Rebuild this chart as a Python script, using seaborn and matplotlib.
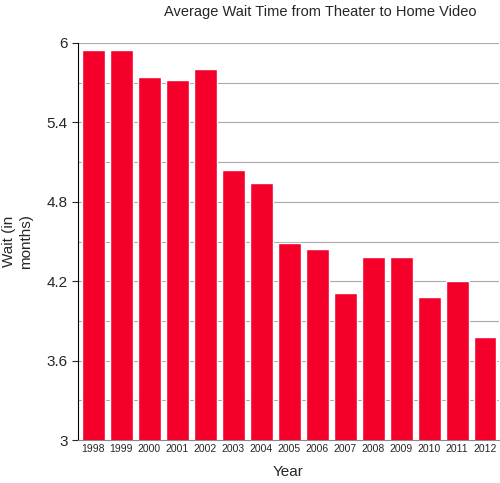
import matplotlib
matplotlib.use("Agg")
import matplotlib.pyplot as plt
import seaborn as sns
import pandas as pd
import numpy as np

years = [str(y) for y in range(1998, 2013)]
wait = [5.95, 5.95, 5.74, 5.72, 5.80, 5.04, 4.94, 4.49, 4.44, 4.11, 4.38, 4.38, 4.08, 4.20, 3.78]
df = pd.DataFrame({"Year": years, "Wait": wait})

sns.set_style("white")
plt.rcParams['font.family'] = ['Liberation Sans', 'DejaVu Sans']
fig = plt.figure(figsize=(5, 4.83), dpi=100)
ax = fig.add_axes([0.156, 0.089, 0.842, 0.822])
sns.barplot(data=df, x="Year", y="Wait", color="#f5002b", saturation=1, width=0.82, ax=ax, zorder=3)
ax.set_ylim(3, 6)
ax.set_yticks(np.arange(3, 6.01, 0.6))
ax.set_yticklabels(["3", "3.6", "4.2", "4.8", "5.4", "6"], fontsize=11)
ax.set_yticks(np.arange(3.3, 6, 0.6), minor=True)
ax.grid(True, axis="y", which="both", color="#aaaaaa", lw=0.8, zorder=0)
ax.tick_params(axis="x", labelsize=7.5, length=0, pad=3)
ax.tick_params(axis="y", which="major", left=True, length=4, width=0.8)
for s in ["top", "right"]:
    ax.spines[s].set_visible(False)
ax.spines["left"].set_color("black")
ax.spines["bottom"].set_color("#888888")
ax.set_xlim(-0.55, 14.5)
ax.set_xlabel("Year", fontsize=11, labelpad=8)
ax.set_ylabel("Wait (in\nmonths)", fontsize=11, labelpad=10)
fig.text(0.64, 0.975, "Average Wait Time from Theater to Home Video", ha="center", va="center", fontsize=10.5)
fig.savefig("out.png", dpi=100)
